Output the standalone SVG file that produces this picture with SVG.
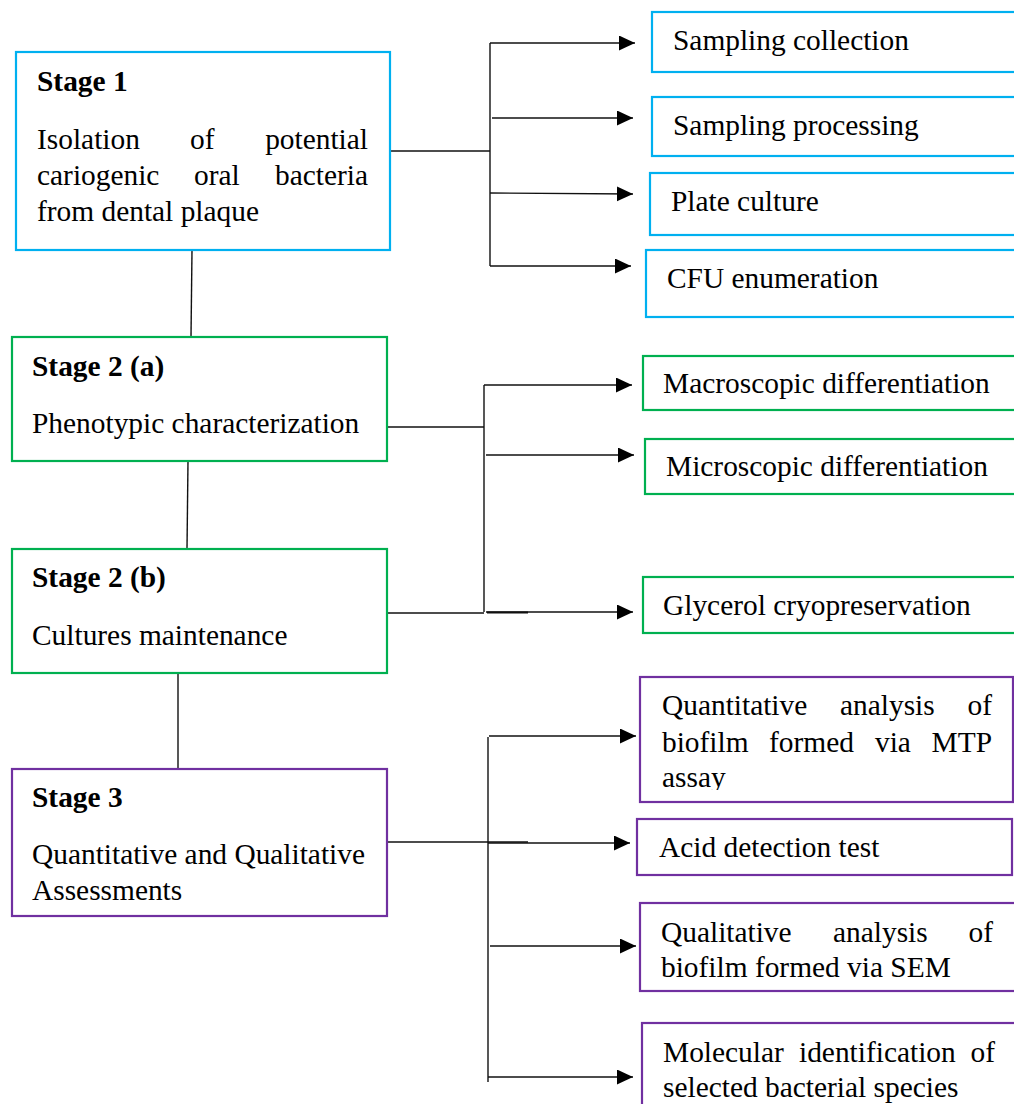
<svg xmlns="http://www.w3.org/2000/svg" width="1014" height="1104" viewBox="0 0 1014 1104">
<style>
text{font-family:"Liberation Serif","Times New Roman",serif;font-size:29.4px;fill:#000}
.b{font-weight:bold}
.box{fill:#fff;stroke-width:2.2}
.blue{stroke:#00B0F0}
.green{stroke:#00B050}
.purple{stroke:#7030A0}
.ln{stroke:#111;stroke-width:1.4;fill:none}
.ar{stroke:#111;stroke-width:1.4;fill:none;marker-end:url(#ah)}
</style>
<defs>
<marker id="ah" markerUnits="userSpaceOnUse" markerWidth="17" markerHeight="16" refX="16" refY="7.5" orient="auto">
<path d="M0,0 L16,7.5 L0,15 z" fill="#000"/>
</marker>
<clipPath id="clipQ"><rect x="640" y="677" width="374" height="113"/></clipPath>
</defs>
<rect width="1014" height="1104" fill="#fff"/>

<g id="connectors">
<line class="ln" x1="192" y1="250" x2="191" y2="337"/>
<line class="ln" x1="390" y1="151" x2="490" y2="151"/>
<line class="ln" x1="490" y1="43" x2="490" y2="266"/>
<line class="ar" x1="490" y1="43" x2="635" y2="43"/>
<line class="ar" x1="492" y1="118" x2="633" y2="118"/>
<line class="ar" x1="490" y1="193" x2="633" y2="194"/>
<line class="ar" x1="490" y1="266" x2="631" y2="266"/>
<line class="ln" x1="188" y1="461" x2="187" y2="549"/>
<line class="ln" x1="387" y1="427" x2="484" y2="427"/>
<line class="ln" x1="484" y1="385" x2="484" y2="612"/>
<line class="ln" x1="387" y1="613" x2="484" y2="613"/>
<line class="ln" x1="487" y1="612.5" x2="528" y2="612.5" style="stroke-width:2"/>
<line class="ar" x1="484" y1="385" x2="632" y2="385"/>
<line class="ar" x1="486" y1="455" x2="634" y2="455"/>
<line class="ar" x1="486" y1="612" x2="633" y2="612"/>
<line class="ln" x1="178" y1="673" x2="178" y2="769"/>
<line class="ln" x1="387" y1="842" x2="528" y2="842"/>
<line class="ln" x1="488" y1="737" x2="488" y2="1082"/>
<line class="ar" x1="489" y1="736" x2="636" y2="736"/>
<line class="ar" x1="488" y1="843" x2="630" y2="843"/>
<line class="ar" x1="490" y1="946" x2="636" y2="946"/>
<line class="ar" x1="488" y1="1077" x2="633" y2="1077"/>
</g>

<g id="stage1">
<rect class="box blue" x="16" y="52" width="374" height="198"/>
<text class="b" x="37" y="91">Stage 1</text>
<text x="37" y="149">Isolation</text>
<text x="190" y="149">of</text>
<text x="368" y="149" text-anchor="end">potential</text>
<text x="37" y="185">cariogenic</text>
<text x="194" y="185">oral</text>
<text x="368" y="185" text-anchor="end">bacteria</text>
<text x="37" y="221">from dental plaque</text>
</g>

<g id="sampling-collection">
<rect class="box blue" x="652" y="12" width="370" height="60"/>
<text x="673" y="50">Sampling collection</text>
</g>
<g id="sampling-processing">
<rect class="box blue" x="652" y="97" width="370" height="59"/>
<text x="673" y="135">Sampling processing</text>
</g>
<g id="plate-culture">
<rect class="box blue" x="650" y="173" width="372" height="62"/>
<text x="671" y="211">Plate culture</text>
</g>
<g id="cfu-enumeration">
<rect class="box blue" x="646" y="250" width="376" height="67"/>
<text x="667" y="288">CFU enumeration</text>
</g>

<g id="stage2a">
<rect class="box green" x="12" y="337" width="375" height="124"/>
<text class="b" x="32" y="376">Stage 2 (a)</text>
<text x="32" y="433">Phenotypic characterization</text>
</g>
<g id="stage2b">
<rect class="box green" x="12" y="549" width="375" height="124"/>
<text class="b" x="32" y="587">Stage 2 (b)</text>
<text x="32" y="645">Cultures maintenance</text>
</g>

<g id="macroscopic">
<rect class="box green" x="643" y="356" width="379" height="54"/>
<text x="663" y="393">Macroscopic differentiation</text>
</g>
<g id="microscopic">
<rect class="box green" x="645" y="439" width="377" height="55"/>
<text x="666" y="476">Microscopic differentiation</text>
</g>
<g id="glycerol">
<rect class="box green" x="643" y="577" width="379" height="56"/>
<text x="663" y="615">Glycerol cryopreservation</text>
</g>

<g id="stage3">
<rect class="box purple" x="12" y="769" width="375" height="147"/>
<text class="b" x="32" y="807">Stage 3</text>
<text x="32" y="864">Quantitative and Qualitative</text>
<text x="32" y="900">Assessments</text>
</g>

<g id="quantitative">
<rect class="box purple" x="640" y="677" width="373" height="125"/>
<text x="662" y="715">Quantitative</text>
<text x="840" y="715">analysis</text>
<text x="992" y="715" text-anchor="end">of</text>
<text x="662" y="752">biofilm</text>
<text x="769" y="752">formed</text>
<text x="875" y="752">via</text>
<text x="992" y="752" text-anchor="end">MTP</text>
<text x="662" y="787" clip-path="url(#clipQ)">assay</text>
</g>
<g id="acid">
<rect class="box purple" x="637" y="819" width="375" height="56"/>
<text x="659" y="857">Acid detection test</text>
</g>
<g id="qualitative">
<rect class="box purple" x="640" y="903" width="382" height="88"/>
<text x="661" y="942">Qualitative</text>
<text x="833" y="942">analysis</text>
<text x="993" y="942" text-anchor="end">of</text>
<text x="661" y="977">biofilm formed via SEM</text>
</g>
<g id="molecular">
<rect class="box purple" x="642" y="1023" width="380" height="100"/>
<text x="663" y="1062">Molecular</text>
<text x="799" y="1062">identification</text>
<text x="995" y="1062" text-anchor="end">of</text>
<text x="663" y="1097">selected bacterial species</text>
</g>
</svg>
